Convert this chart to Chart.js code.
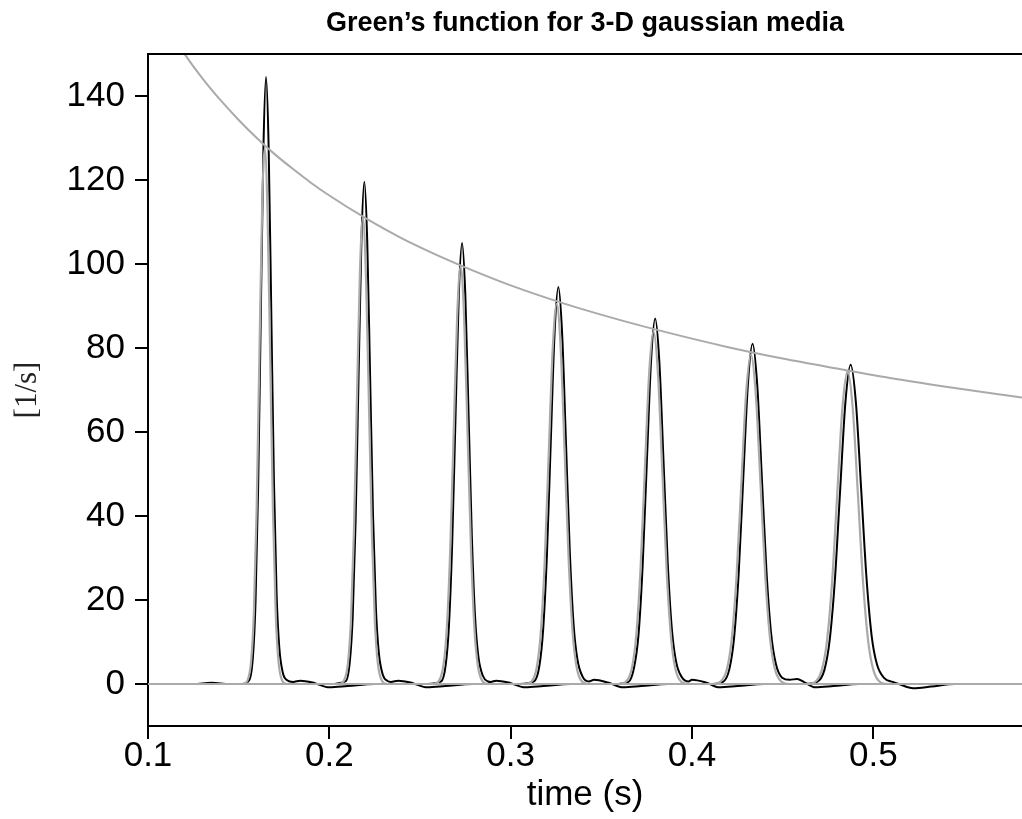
<!DOCTYPE html>
<html>
<head>
<meta charset="utf-8">
<script src="https://cdn.jsdelivr.net/npm/chart.js@4"></script>
<style>
  html, body { margin: 0; padding: 0; background: #fff; }
  #wrap { width: 1022px; height: 819px; }
</style>
</head>
<body>
<div id="wrap"><canvas id="c" width="1022" height="819"></canvas></div>
<script>
// ---- tick labels ----
const xTicks = [0.1, 0.2, 0.3, 0.4, 0.5];
const xTickLabels = ['0.1', '0.2', '0.3', '0.4', '0.5'];
const yTicks = [0, 20, 40, 60, 80, 100, 120, 140];
const yTickLabels = ['0', '20', '40', '60', '80', '100', '120', '140'];

// ---- gray envelope (peak amplitude decay), [time, value] ----
const envelope = [[0.1,164.4],[0.11,156.8],[0.12,150.1],[0.13,144.2],[0.14,139.0],[0.15,134.3],[0.16,130.0],
  [0.17,126.1],[0.18,122.6],[0.19,119.3],[0.2,116.3],[0.22,110.9],[0.24,106.1],[0.26,102.0],[0.28,98.3],
  [0.3,94.9],[0.33,90.5],[0.36,86.7],[0.39,83.3],[0.42,80.2],[0.45,77.5],[0.48,75.1],[0.51,72.8],
  [0.54,70.8],[0.582,68.2]];

// ---- gray traces (reference pulses) ----
const gray1 = [[0.1,0],[0.1524,0],[0.1548,0.8],[0.1569,5.6],[0.1584,17.2],[0.1599,41.4],[0.1614,77.4],[0.1629,112.5],[0.1644,127.5],[0.1659,112.5],[0.1674,77.4],[0.1689,41.4],[0.1704,17.2],[0.1719,5.6],[0.174,0.8],[0.1764,0],[0.582,0]];
const gray2 = [[0.1,0],[0.2053,0],[0.20794,0.7],[0.21025,4.9],[0.2119,15],[0.21355,36.1],[0.2152,67.4],[0.21685,97.9],[0.2185,111],[0.22015,97.9],[0.2218,67.4],[0.22345,36.1],[0.2251,15],[0.22675,4.9],[0.22906,0.7],[0.2317,0],[0.582,0]];
const gray3 = [[0.1,0],[0.2572,0],[0.26024,0.6],[0.2629,4.4],[0.2648,13.4],[0.2667,32.3],[0.2686,60.3],[0.2705,87.6],[0.2724,99.3],[0.2743,87.6],[0.2762,60.3],[0.2781,32.3],[0.28,13.4],[0.2819,4.4],[0.28456,0.6],[0.2876,0],[0.582,0]];
const gray4 = [[0.1,0],[0.3078,0],[0.31132,0.5],[0.3144,4.0],[0.3166,12.2],[0.3188,29.4],[0.321,54.9],[0.3232,79.8],[0.3254,90.5],[0.3276,79.8],[0.3298,54.9],[0.332,29.4],[0.3342,12.2],[0.3364,4.0],[0.33948,0.5],[0.343,0],[0.582,0]];
const gray5 = [[0.1,0],[0.3596,0],[0.36344,0.5],[0.3668,3.7],[0.3692,11.3],[0.3716,27.3],[0.374,51],[0.3764,74.1],[0.3788,84],[0.3812,74.1],[0.3836,51],[0.386,27.3],[0.3884,11.3],[0.3908,3.7],[0.39416,0.5],[0.398,0],[0.582,0]];
const gray6 = [[0.1,0],[0.4113,0],[0.41554,0.5],[0.41925,3.5],[0.4219,10.6],[0.42455,25.5],[0.4272,47.6],[0.42985,69.2],[0.4325,78.5],[0.43515,69.2],[0.4378,47.6],[0.44045,25.5],[0.4431,10.6],[0.44575,3.5],[0.44946,0.5],[0.4537,0],[0.582,0]];
const gray7 = [[0.1,0],[0.463,0],[0.46756,0.4],[0.47155,3.3],[0.4744,10.1],[0.47725,24.2],[0.4801,45.2],[0.48295,65.7],[0.4858,74.5],[0.48865,65.7],[0.4915,45.2],[0.49435,24.2],[0.4972,10.1],[0.50005,3.3],[0.50404,0.4],[0.5086,0],[0.582,0]];

// ---- black traces (Green's function) ----
const black1 = [[0.1,0],[0.125,0],[0.135,0.3],[0.145,0],[0.152,0],[0.1558,0.9],[0.15785,6.4],[0.1593,19.5],[0.16075,47],[0.1622,87.7],[0.16365,127.4],[0.1651,144.5],[0.16655,127.4],[0.168,88.1],[0.16945,48.4],[0.1709,21.7],[0.17235,9.0],[0.1744,2.6],[0.1767,0.9],[0.18,0.5],[0.184,0.8],[0.192,0.2],[0.2,-0.8],[0.21,-0.5],[0.225,0],[0.582,0]];
const black2 = [[0.1,0],[0.2,0],[0.2091,0.7],[0.2113,5.3],[0.2129,16.1],[0.2145,38.9],[0.2161,72.6],[0.2177,105.5],[0.2193,119.6],[0.2209,105.5],[0.2225,73],[0.2241,40.1],[0.2257,17.9],[0.2273,7.4],[0.2295,2.2],[0.2321,0.7],[0.234,0.5],[0.238,0.8],[0.246,0.2],[0.254,-0.8],[0.264,-0.5],[0.279,0],[0.582,0]];
const black3 = [[0.1,0],[0.254,0],[0.26168,0.6],[0.2642,4.6],[0.266,14.2],[0.2678,34.1],[0.2696,63.7],[0.2714,92.6],[0.2732,105],[0.275,92.6],[0.2768,64],[0.2786,35.2],[0.2804,15.8],[0.2822,6.5],[0.28472,1.9],[0.2876,0.6],[0.289,0.5],[0.292,0.8],[0.3,0.2],[0.308,-0.8],[0.318,-0.5],[0.333,0],[0.582,0]];
const black4 = [[0.1,0],[0.305,0],[0.31286,0.6],[0.3158,4.2],[0.3179,12.8],[0.32,30.7],[0.3221,57.4],[0.3242,83.3],[0.3263,94.5],[0.3284,83.3],[0.3305,57.6],[0.3326,31.7],[0.3347,14.2],[0.3368,5.9],[0.33974,1.7],[0.3431,0.6],[0.346,1.0],[0.354,0.3],[0.362,-0.8],[0.372,-0.5],[0.387,0],[0.582,0]];
const black5 = [[0.1,0],[0.357,0],[0.36498,0.5],[0.368,3.8],[0.3705,11.7],[0.3728,28.3],[0.3751,52.8],[0.3774,76.7],[0.3797,87],[0.382,76.7],[0.3843,53.1],[0.3866,29.1],[0.3889,13.1],[0.3912,5.4],[0.39442,1.6],[0.3981,0.6],[0.4,1.0],[0.408,0.3],[0.415,-0.8],[0.425,-0.5],[0.44,0],[0.582,0]];
const black6 = [[0.1,0],[0.41,0],[0.41708,0.5],[0.42065,3.6],[0.4232,10.9],[0.42575,26.3],[0.4283,49.2],[0.43085,71.4],[0.4334,81],[0.43595,71.4],[0.4385,49.4],[0.44105,27.1],[0.4436,12.2],[0.44615,5.0],[0.44972,1.5],[0.4538,1.0],[0.458,1.2],[0.462,0.4],[0.468,-0.8],[0.478,-0.5],[0.492,0],[0.582,0]];
const black7 = [[0.1,0],[0.462,0],[0.46894,0.5],[0.473,3.3],[0.4759,10.3],[0.4788,24.7],[0.4817,46.1],[0.4846,67],[0.4875,76],[0.4904,67],[0.4933,46.4],[0.4962,25.5],[0.4991,11.4],[0.502,4.7],[0.50606,1.4],[0.5107,0.5],[0.514,0],[0.522,-1.0],[0.532,-0.6],[0.545,0],[0.582,0]];

const grayTraces = [gray1, gray2, gray3, gray4, gray5, gray6, gray7];
const blackTraces = [black1, black2, black3, black4, black5, black6, black7];

const GRAY = '#aaaaaa';
const lineDs = (data, color, width) => ({
  data, borderColor: color, borderWidth: width, pointRadius: 0,
  fill: false, cubicInterpolationMode: 'monotone'
});

// first datasets are drawn on top in Chart.js
const datasets = [
  lineDs(envelope, GRAY, 2),
  ...grayTraces.map(d => lineDs(d, GRAY, 2.2)),
  ...blackTraces.map(d => lineDs(d, '#000000', 2))
];

const topBorder = {
  id: 'topBorder',
  afterDraw(chart) {
    const {ctx, chartArea: {left, right, top}} = chart;
    ctx.save();
    ctx.strokeStyle = '#000';
    ctx.lineWidth = 2;
    ctx.beginPath();
    ctx.moveTo(left - 1, top);
    ctx.lineTo(right, top);
    ctx.stroke();
    ctx.restore();
  }
};

const tickFont = {family: "'Liberation Sans', Arial, sans-serif", size: 35, lineHeight: 1};

new Chart(document.getElementById('c'), {
  type: 'line',
  data: { datasets },
  plugins: [topBorder],
  options: {
    responsive: false,
    devicePixelRatio: 1,
    animation: false,
    parsing: true,
    layout: { padding: 0 },
    plugins: {
      legend: { display: false },
      tooltip: { enabled: false },
      title: {
        display: true,
        fullSize: false,
        text: 'Green\u2019s function for 3-D gaussian media',
        color: '#000',
        font: {family: "'Liberation Sans', Arial, sans-serif", size: 27, weight: 'bold', lineHeight: 1},
        padding: {top: 10, bottom: 17}
      }
    },
    scales: {
      x: {
        type: 'linear',
        min: 0.1, max: 0.582,
        afterFit: s => { s.height = 93; },
        afterBuildTicks: s => { s.ticks = xTicks.map(v => ({value: v})); },
        ticks: {
          color: '#000', font: tickFont, padding: 0, maxRotation: 0,
          callback: (v, i) => xTickLabels[i]
        },
        grid: { drawOnChartArea: false, drawTicks: true, tickLength: 13, color: '#000', lineWidth: 2 },
        border: { display: true, color: '#000', width: 2 },
        title: {
          display: true, text: 'time (s)', color: '#000',
          font: {family: "'Liberation Sans', Arial, sans-serif", size: 35, lineHeight: 1},
          padding: {top: 0, bottom: 6}
        }
      },
      y: {
        type: 'linear',
        min: -10, max: 150,
        afterFit: s => { s.width = 148; },
        afterBuildTicks: s => { s.ticks = yTicks.map(v => ({value: v})); },
        ticks: {
          color: '#000', font: tickFont, padding: 10,
          callback: (v, i) => yTickLabels[i]
        },
        grid: { drawOnChartArea: false, drawTicks: true, tickLength: 13, color: '#000', lineWidth: 2 },
        border: { display: true, color: '#000', width: 2 },
        title: {
          display: true, text: '[1/s]', color: '#222',
          font: {family: "'Liberation Serif', 'DejaVu Serif', serif", size: 31, lineHeight: 1},
          padding: {top: 12, bottom: 0}
        }
      }
    }
  }
});
</script>
</body>
</html>
